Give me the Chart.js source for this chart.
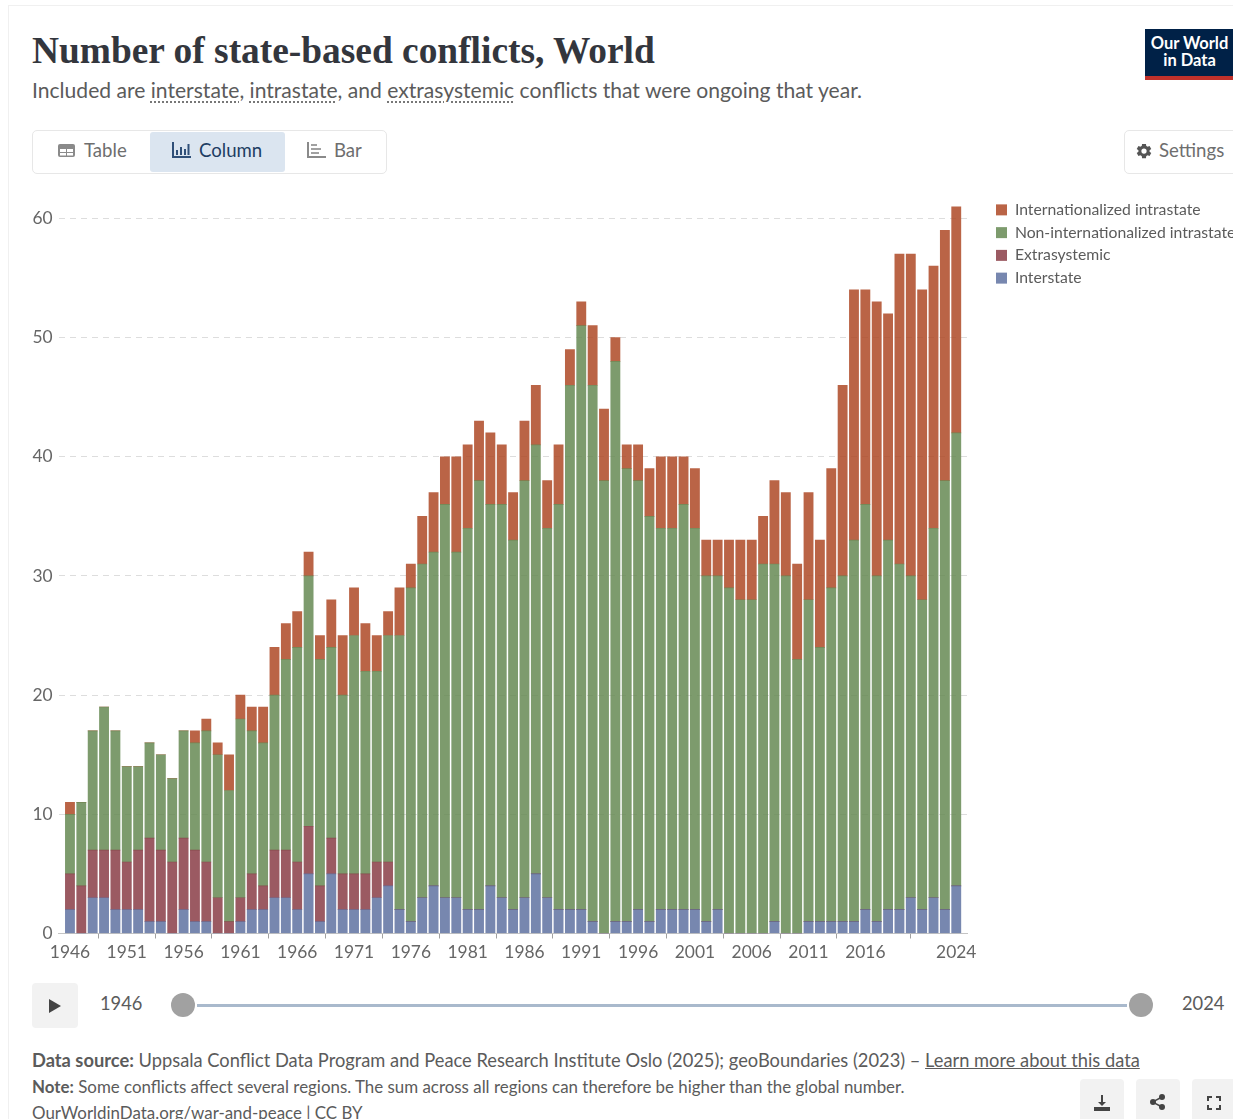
<!DOCTYPE html>
<html lang="en"><head><meta charset="utf-8"><title>Number of state-based conflicts, World</title>
<script src="https://cdn.jsdelivr.net/npm/chart.js@4"></script>
<style>
html,body{margin:0;padding:0;background:#fff;}
body{width:1233px;height:1119px;overflow:hidden;position:relative;font-family:Lato,sans-serif;color:#5b5b5b;filter:blur(.3px);}
.a{position:absolute;white-space:nowrap;}
#card{left:8px;top:5px;width:1240px;height:1130px;border:1px solid #f0f0f0;box-sizing:border-box;}
#title{left:32px;top:29px;font:bold 37.4px "Liberation Serif",serif;color:#33363d;line-height:44px;}
#sub{left:32px;top:76px;font-size:21.1px;line-height:27px;color:#5b5b5b;}
#sub u{text-decoration:underline dotted #777 1.5px;text-underline-offset:3px;}
#logo{left:1145px;top:29px;width:88px;height:51px;background:#002147;border-bottom:4px solid #c0312b;box-sizing:border-box;color:#fff;font-weight:700;font-size:16.5px;line-height:17px;text-align:center;padding-top:6px;padding-left:1px;}
#tabs{left:32px;top:130px;width:355px;height:44px;border:1px solid #e7e7e7;border-radius:5px;box-sizing:border-box;}
.tab{top:132px;height:40px;line-height:37px;font-size:18.6px;color:#6e6e6e;}
#act{left:150px;top:132px;width:135px;height:40px;background:#dbe5f0;border-radius:3px;}
#set{left:1124px;top:130px;width:130px;height:44px;border:1px solid #e7e7e7;border-radius:5px;box-sizing:border-box;}
#chart{left:0;top:190px;}
.btn{background:#f2f2f2;border-radius:4px;}
.foot{left:32px;font-size:18.3px;color:#5b5b5b;}
b{font-weight:700;}
svg{position:absolute;}
</style></head><body>
<div class="a" id="card"></div>
<div class="a" id="title">Number of state-based conflicts, World</div>
<div class="a" id="sub">Included are <u>interstate</u>, <u>intrastate</u>, and <u>extrasystemic</u> conflicts that were ongoing that year.</div>
<div class="a" id="logo">Our World<br>in Data</div>
<div class="a" id="tabs"></div><div class="a" id="act"></div>
<svg style="left:57px;top:142px" width="19" height="17" viewBox="0 0 19 17"><rect x="1" y="2" width="17" height="13" rx="2" fill="#8a8a8a"/><path d="M3 7h6v3H3zM10 7h6v3h-6zM3 11h6v2.500H3zM10 11h6v2.500h-6z" fill="#fff"/></svg>
<div class="a tab" style="left:84px">Table</div>
<svg style="left:172px;top:142px" width="19" height="17" viewBox="0 0 19 17" fill="#2f4f78"><path d="M0 0h2v14h17v2H0z"/><path d="M4 8h2v5H4zM8 5h2v8H8zM12 7h2v6h-2zM15.500 2h2v11h-2z"/></svg>
<div class="a tab" style="left:199px;color:#1d3d63">Column</div>
<svg style="left:307px;top:142px" width="19" height="17" viewBox="0 0 19 17" fill="#8a8a8a"><path d="M0 0h2v14h17v2H0z"/><path d="M4 2h6v2H4zM4 6h10v2H4zM4 10h8v2H4z" opacity=".8"/></svg>
<div class="a tab" style="left:334px">Bar</div>
<div class="a" id="set"></div>
<svg style="left:1135px;top:142px" width="18" height="18" viewBox="0 0 24 24"><path fill="#555" d="M19.400 13a7.500 7.500 0 0 0 0-2l2.300-1.700-2.300-4-2.600 1.100a8 8 0 0 0-1.800-1L14.600 2.500h-5.200l-.4 2.900a8 8 0 0 0-1.800 1L4.600 5.300l-2.300 4L4.600 11a7.500 7.500 0 0 0 0 2l-2.300 1.700 2.300 4 2.600-1.100a8 8 0 0 0 1.800 1l.4 2.900h5.200l.4-2.900a8 8 0 0 0 1.800-1l2.600 1.100 2.300-4zM12 15.500a3.500 3.500 0 1 1 0-7 3.500 3.500 0 0 1 0 7z"/></svg>
<div class="a tab" style="left:1159px;top:132px">Settings</div>

<canvas class="a" id="chart"></canvas>

<div class="a btn" style="left:32px;top:983px;width:46px;height:45px"></div>
<svg style="left:48px;top:999px" width="14" height="14"><path d="M1 0L13 7L1 14z" fill="#444"/></svg>
<div class="a" style="left:100px;top:991px;font-size:18.3px;line-height:24px">1946</div>
<div class="a" style="left:197px;top:1004px;width:930px;height:3px;background:#a9b9cc"></div>
<div class="a" style="left:171px;top:993px;width:24px;height:24px;border-radius:50%;background:#a1a1a1"></div>
<div class="a" style="left:1129px;top:993px;width:24px;height:24px;border-radius:50%;background:#a1a1a1"></div>
<div class="a" style="left:1182px;top:991px;font-size:18.3px;line-height:24px">2024</div>

<div class="a foot" style="top:1049px;line-height:22px"><b>Data source:</b> Uppsala Conflict Data Program and Peace Research Institute Oslo (2025); geoBoundaries (2023) – <u>Learn more about this data</u></div>
<div class="a foot" style="top:1076px;line-height:22px;font-size:16.9px"><b>Note:</b> Some conflicts affect several regions. The sum across all regions can therefore be higher than the global number.</div>
<div class="a foot" style="top:1102px;line-height:22px;font-size:16.9px">OurWorldinData.org/war-and-peace | CC BY</div>
<div class="a btn" style="left:1080px;top:1079px;width:44px;height:50px"></div>
<div class="a btn" style="left:1136px;top:1079px;width:44px;height:50px"></div>
<div class="a btn" style="left:1192px;top:1079px;width:44px;height:50px"></div>
<svg style="left:1093px;top:1094px" width="18" height="18" viewBox="0 0 18 18" fill="#444"><path d="M8 1h2v7h3l-4 4-4-4h3z"/><path d="M1 13h16v4H1z"/></svg>
<svg style="left:1150px;top:1094px" width="16" height="16" viewBox="0 0 16 16" fill="#444"><circle cx="12" cy="3" r="3"/><circle cx="12" cy="13" r="3"/><circle cx="3" cy="8" r="3"/><path d="M3 7l9-5v2L4 8l8 4v2L3 9z"/></svg>
<svg style="left:1207px;top:1096px" width="14" height="14" viewBox="0 0 14 14" fill="none" stroke="#444" stroke-width="2"><path d="M1 5V1h4M9 1h4v4M13 9v4H9M5 13H1V9"/></svg>

<script>
const years = [1946,1947,1948,1949,1950,1951,1952,1953,1954,1955,1956,1957,1958,1959,1960,1961,1962,1963,1964,1965,1966,1967,1968,1969,1970,1971,1972,1973,1974,1975,1976,1977,1978,1979,1980,1981,1982,1983,1984,1985,1986,1987,1988,1989,1990,1991,1992,1993,1994,1995,1996,1997,1998,1999,2000,2001,2002,2003,2004,2005,2006,2007,2008,2009,2010,2011,2012,2013,2014,2015,2016,2017,2018,2019,2020,2021,2022,2023,2024];
const interstate = [2,0,3,3,2,2,2,1,1,0, 2,1,1,0,0,1,2,2,3,3, 2,5,1,5,2,2,2,3,4,2, 1,3,4,3,3,2,2,4,3,2, 3,5,3,2,2,2,1,0,1,1, 2,1,2,2,2,2,1,2,0,0, 0,0,1,0,0,1,1,1,1,1, 2,1,2,2,3,2,3,2,4];
const extrasystemic = [3,4,4,4,5,4,5,7,6,6, 6,6,5,3,1,2,3,2,4,4, 4,4,3,3,3,3,3,3,2,0, 0,0,0,0,0,0,0,0,0,0, 0,0,0,0,0,0,0,0,0,0, 0,0,0,0,0,0,0,0,0,0, 0,0,0,0,0,0,0,0,0,0, 0,0,0,0,0,0,0,0,0];
const nonInternationalized = [5,7,10,12,10,8,7,8,8,7, 9,9,11,12,11,15,12,12,13,16, 18,21,19,16,15,20,17,16,19,23, 28,28,28,33,29,32,36,32,33,31, 35,36,31,34,44,49,45,38,47,38, 36,34,32,32,34,32,29,28,29,28, 28,31,30,30,23,27,23,28,29,32, 34,29,31,29,27,26,31,36,38];
const internationalized = [1,0,0,0,0,0,0,0,0,0, 0,1,1,1,3,2,2,3,4,3, 3,2,2,4,5,4,4,3,2,4, 2,4,5,4,8,7,5,6,5,4, 5,5,4,5,3,2,5,6,2,2, 3,4,6,6,4,5,3,3,4,5, 5,4,7,7,8,9,9,10,16,21, 18,23,19,26,27,26,22,21,19];
const xTicks = [1946,1951,1956,1961,1966,1971,1976,1981,1986,1991,1996,2001,2006,2011,2016,2024];
const yTicks = [0,10,20,30,40,50,60];
const seriesNames = ["Interstate","Extrasystemic","Non-internationalized intrastate","Internationalized intrastate"];
const seriesColors = ["rgba(95,114,161,.85)","rgba(138,61,70,.85)","rgba(102,138,84,.85)","rgba(174,73,38,.85)"];
const seriesValues = [interstate,extrasystemic,nonInternationalized,internationalized];

const W = 1233, H = 785;
const cv = document.getElementById('chart');
cv.width = W; cv.height = H; cv.style.width = W+'px'; cv.style.height = H+'px';
const placeLegend = {id:'placeLegend', afterLayout(c){ const l=c.legend; l.left = 989; l.right = 1400; l.width = 411; l.top = 5; }};
new Chart(cv, {
  type:'bar',
  data:{labels:years, datasets:seriesNames.map((n,i)=>({label:n,data:seriesValues[i],backgroundColor:seriesColors[i],borderWidth:0,barThickness:9.2}))},
  plugins:[placeLegend],
  options:{
    responsive:false, animation:false, devicePixelRatio:1,
    layout:{padding:{top:14,right:9,left:0,bottom:0}},
    plugins:{
      tooltip:{enabled:false},
      legend:{position:'right',align:'start',reverse:true,
        labels:{boxWidth:11,boxHeight:11,padding:7,color:'#5b5b5b',font:{family:'Lato',size:15.75}}}
    },
    scales:{
      x:{type:'linear',stacked:true,min:1945,max:2025,offset:false,
        afterBuildTicks(s){ s.ticks = xTicks.map(v=>({value:v})); },
        afterFit(s){ s.height = 41.5; },
        grid:{drawOnChartArea:false,tickLength:5,tickColor:'#a0a0a0'},
        border:{color:'#c4c4c4',width:1},
        ticks:{autoSkip:false,maxRotation:0,color:'#666',padding:3,font:{family:'Lato',size:17.4},callback:v=>String(v)}},
      y:{stacked:true,min:0,max:61,
        afterBuildTicks(s){ s.ticks = yTicks.map(v=>({value:v})); },
        afterFit(s){ s.width = 58.6; },
        grid:{drawTicks:false,color:c=>c.tick&&c.tick.value===0?'rgba(0,0,0,0)':'#dddddd',lineWidth:1},
        border:{display:false,dash:[6,5]},
        ticks:{color:'#666',padding:6,font:{family:'Lato',size:17.4},callback:v=>String(v)}}
    }
  }
});
</script>
</body></html>
